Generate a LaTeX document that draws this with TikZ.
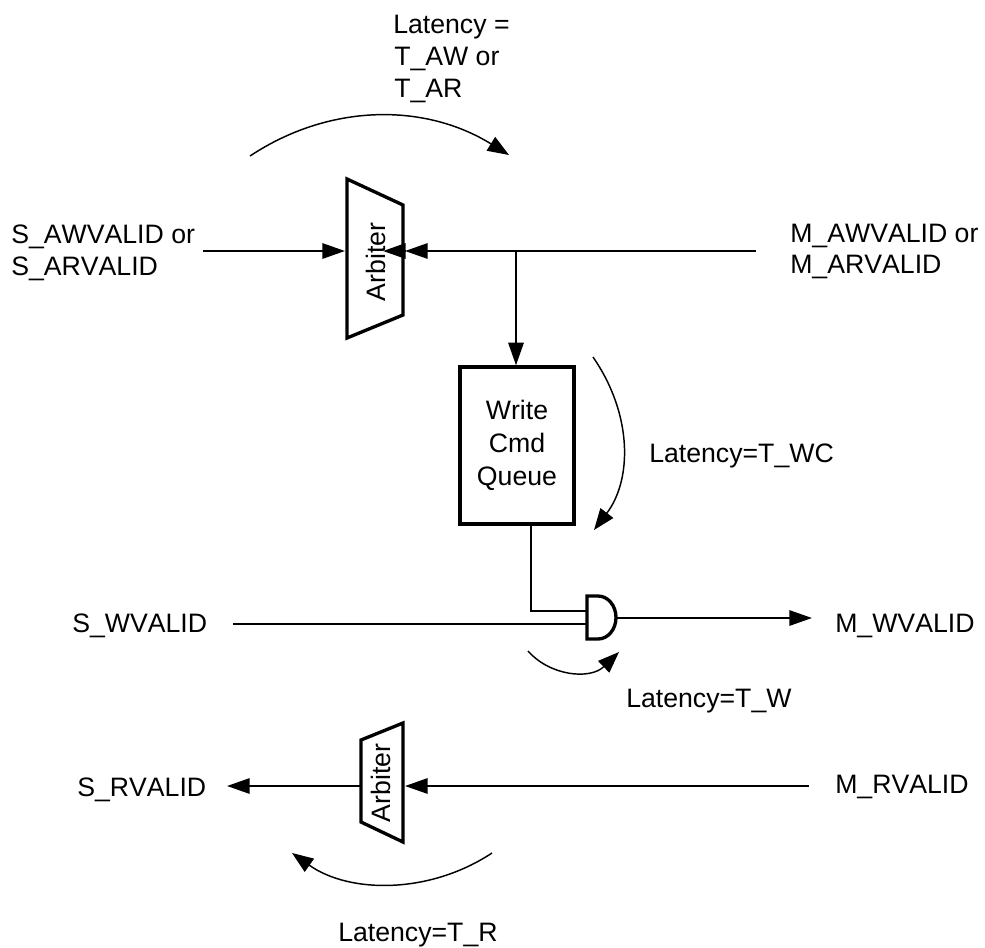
\documentclass[tikz,border=0pt]{standalone}
\usepackage{fontspec}
\setmainfont[Kerning=Off]{Liberation Sans}
\usetikzlibrary{arrows.meta}
\tikzset{
  wire/.style={line width=1.5pt,black},
  flow/.style={wire,-{Triangle[length=17pt,width=11.5pt]}},
  sweep/.style={line width=1.1pt,black,-{Triangle[length=16pt,width=12pt]}},
  block/.style={line width=2.5pt,draw=black,line join=miter},
  lbl/.style={inner sep=0pt,font=\fontsize{20pt}{24pt}\selectfont,align=left,anchor=base west},
  clbl/.style={inner sep=0pt,font=\fontsize{20pt}{24.75pt}\selectfont,align=center},
  rot/.style={inner sep=0pt,font=\fontsize{20pt}{24pt}\selectfont,rotate=90,anchor=base}
}
\begin{document}
\begin{tikzpicture}[x=0.75pt,y=-0.75pt]
\useasboundingbox (0,0) rectangle (985,947);
% arbiters
\draw[block] (347,179) -- (403,205) -- (403,315) -- (347,338) -- cycle;
\node[rot] (arb1) at (385,262) {Arbiter};
\draw[block] (361,740) -- (403,723) -- (403,842) -- (361,822) -- cycle;
\node[rot] (arb2) at (390,783) {Arbiter};
% queue
\node[block,minimum width=85.5pt,minimum height=117.75pt,inner sep=0pt,clbl] (queue) at (517,445.5) {Write\\Cmd\\Queue};
% labels
\node[lbl] (sar) at (11,243) {S\_AWVALID or};
\node[lbl] (sar2) at (11,275) {S\_ARVALID};
\node[lbl] (mar) at (790,242) {M\_AWVALID or};
\node[lbl] (mar2) at (790,273) {M\_ARVALID};
\node[lbl] (sw) at (72,632) {S\_WVALID};
\node[lbl] (mw) at (835,632) {M\_WVALID};
\node[lbl] (sr) at (77,796) {S\_RVALID};
\node[lbl] (mr) at (835,793) {M\_RVALID};
\node[lbl] (l1) at (393,33) {Latency =};
\node[lbl] (l2) at (394,65) {T\_AW or};
\node[lbl] (l3) at (394,97) {T\_AR};
\node[lbl] (lwc) at (649,462) {Latency=T\_WC};
\node[lbl] (lw) at (626,707) {Latency=T\_W};
\node[lbl] (lr) at (338,941) {Latency=T\_R};
% coordinates
\coordinate (a1) at (203,251);
\coordinate (a1t) at (345,251);
\coordinate (m1) at (756,251);
\coordinate (m1t) at (405,251);
\coordinate (m2t) at (383,251);
\coordinate (br) at (516,251);
\coordinate (qo) at (531,524);
\coordinate (gi1) at (587,611);
\coordinate (gi2) at (587,624);
\coordinate (go) at (617,618);
\coordinate (swst) at (233,624);
\coordinate (mwt) at (812,618);
\coordinate (mrs) at (809,786);
\coordinate (mrt) at (405,786);
\coordinate (srs) at (361,786);
\coordinate (srt) at (227,786);
% gate
\draw[block] (587,596) -- (598,596) arc[start angle=-90,end angle=90,x radius=18,y radius=21.5] -- (587,639) -- cycle;
% connectors
\draw[flow] (a1) -- (a1t);
\draw[flow] (m1) -- (m1t);
\draw[flow] (m1t) -- (m2t);
\draw[flow] (br) -- (br |- queue.north);
\draw[wire] (qo) -- (531,611) -- (gi1);
\draw[wire] (swst) -- (gi2);
\draw[flow] (go) -- (mwt);
\draw[flow] (mrs) -- (mrt);
\draw[flow] (srs) -- (srt);
% latency arcs
\draw[sweep] (250,156) .. controls (330,103) and (425,103) .. (509,155);
\draw[sweep] (593,357) .. controls (633,415) and (632,480) .. (594,530);
\draw[sweep] (528,651) .. controls (550,676) and (590,680) .. (619,652);
\draw[sweep] (492,853) .. controls (430,894) and (350,894) .. (292,853);
\end{tikzpicture}
\end{document}
